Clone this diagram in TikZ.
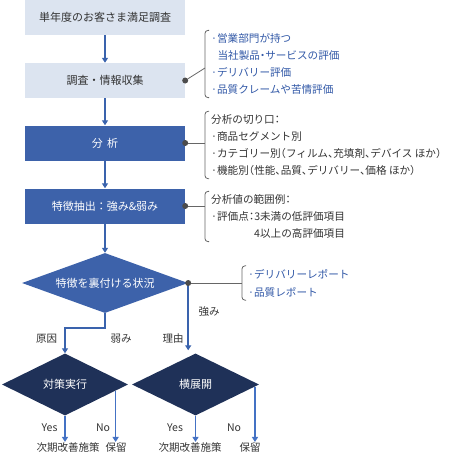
\documentclass[tikz,border=0pt]{standalone}
\usepackage{fontspec}
\setmainfont{Noto Sans CJK JP}
\newfontfamily\notefont[RawFeature=+halt]{Noto Sans CJK JP}
\usetikzlibrary{arrows.meta,positioning,shapes.geometric}
\definecolor{boxlight}{HTML}{DCE4F0}
\definecolor{boxdark}{HTML}{3D62AA}
\definecolor{flowblue}{HTML}{3A63AD}
\definecolor{flowlight}{HTML}{4472C4}
\definecolor{navy}{HTML}{1F3158}
\definecolor{noteblue}{HTML}{3057A6}
\definecolor{txtgray}{HTML}{333333}

\begin{document}
\begin{tikzpicture}[
    x=1pt, y=-1pt,
    etapa/.style={
        rectangle, fill=boxlight, text=txtgray,
        minimum width=160pt, minimum height=35pt,
        font=\fontsize{11}{13}\selectfont
    },
    destaque/.style={etapa, fill=boxdark, text=white},
    decisao/.style={
        diamond, aspect=2.6, inner sep=0pt, fill=boxdark, text=white,
        font=\fontsize{11}{13}\selectfont
    },
    nota/.style={
        align=left, anchor=west, inner xsep=6pt, inner ysep=3pt,
        font=\notefont\fontsize{10.6}{17}\selectfont, text=txtgray
    },
    rotulo/.style={font=\fontsize{10.5}{12}\selectfont, text=txtgray, inner sep=1pt},
    seta/.style={-{Triangle[length=5pt,width=6pt]}, line width=1.6pt, draw=flowblue},
    setab/.style={seta, draw=flowlight},
    ligacao/.style={draw=black!60, line width=0.8pt},
    chave/.style={draw=black!60, line width=0.8pt, rounded corners=3pt},
    ponto/.style={circle, fill=black!70, inner sep=0pt, minimum size=6pt}
]
\useasboundingbox (0,0) rectangle (450,455);

% Nós
\node[etapa] (pesquisa) at (105,17.5) {単年度のお客さま満足調査};
\node[etapa] (coleta) at (105,80.5) {調査・情報収集};
\node[destaque] (analise) at (105,143) {分\hspace{0.4em}析};
\node[destaque] (extracao) at (105,206) {特徴抽出：強み\&弱み};
\node[decisao, minimum width=166pt, minimum height=60pt] (situacao) at (105,283) {特徴を裏付ける状況};
\node[decisao, fill=navy, minimum width=126pt, minimum height=62pt] (medida) at (65,384.5) {対策実行};
\node[decisao, fill=navy, minimum width=127pt, minimum height=62pt] (expansao) at (195.5,384.5) {横展開};

% Notas
\node[nota, text=noteblue] (nota1) at (205,64) {·営業部門が持つ\\\hspace*{0.6em}当社製品・サービスの評価\\·デリバリー評価\\·品質クレームや苦情評価};
\node[nota] (nota2) at (205,145) {分析の切り口：\\·商品セグメント別\\·カテゴリー別（フィルム、充填剤、デバイス ほか）\\·機能別（性能、品質、デリバリー、価格 ほか）};
\node[nota] (nota3) at (205,216.5) {分析値の範囲例：\\·評価点：3未満の低評価項目\\\phantom{·評価点：}4以上の高評価項目};
\node[nota, text=noteblue, font=\notefont\fontsize{10.6}{18}\selectfont] (nota4) at (242,283) {·デリバリーレポート\\·品質レポート};

\foreach \n in {nota1,nota2,nota3,nota4}
    \draw[chave] ([xshift=4pt]\n.north west) -- (\n.north west) -- (\n.south west) -- ([xshift=4pt]\n.south west);

% Resultados
\node[rotulo] (prox1) at (68,448) {次期改善施策};
\node[rotulo] (reter1) at (116,448) {保留};
\node[rotulo] (prox2) at (190,448) {次期改善施策};
\node[rotulo] (reter2) at (250,448) {保留};

% Conexões
\draw[seta] (pesquisa) -- (coleta);
\draw[seta] (coleta) -- (analise);
\draw[seta] (analise) -- (extracao);
\draw[seta] (extracao) -- (situacao);
\draw[seta] (situacao.south) -- ++(0,15) -| (medida.north);
\draw[seta] (situacao.east) -- ([yshift=3pt]situacao.east |- expansao.north);
\draw[setab] (medida.south) -- (medida.south |- prox1.north);
\draw[setab] (medida.-7) -- (medida.-7 |- reter1.north);
\draw[setab] (expansao.south) -- (expansao.south |- prox2.north);
\draw[setab] (expansao.-2.4) -- (expansao.-2.4 |- reter2.north);

\node[ponto] (p1) at (coleta.east) {};
\node[ponto] (p2) at (analise.east) {};
\node[ponto] (p3) at (extracao.east) {};
\node[ponto] (p4) at (situacao.east) {};
\draw[ligacao] (p1) -- ([yshift=-4pt]nota1.west);
\draw[ligacao] (p2) -- (p2 -| nota2.west);
\draw[ligacao] (p3) -- (p3 -| nota3.west);
\draw[ligacao] (p4) -- (p4 -| nota4.west);

% Rótulos
\node[rotulo] (causa) at (46.5,339) {原因};
\node[rotulo] (fraco) at (121,339) {弱み};
\node[rotulo] (motivo) at (173,339) {理由};
\node[rotulo] (forte) at (209,312) {強み};
\node[rotulo] (sim1) at (49.5,428) {Yes};
\node[rotulo] (nao1) at (103,428) {No};
\node[rotulo] (sim2) at (175,428) {Yes};
\node[rotulo] (nao2) at (234,428) {No};

\end{tikzpicture}
\end{document}
